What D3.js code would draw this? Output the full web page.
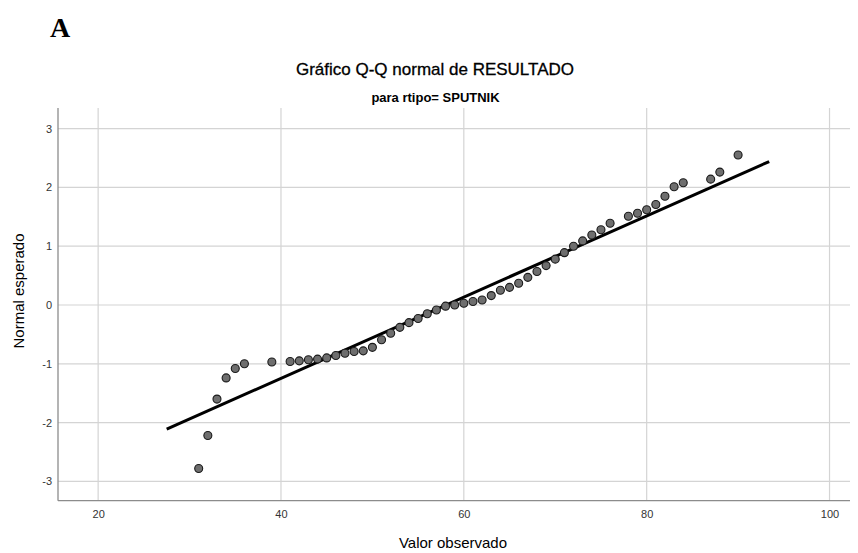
<!DOCTYPE html>
<html>
<head>
<meta charset="utf-8">
<script src="https://cdn.jsdelivr.net/npm/d3@7"></script>
<style>
  body { margin: 0; background: #fff; }
  svg { display: block; }
</style>
</head>
<body>
<svg id="chart" width="858" height="553"></svg>
<script>
// Observed values (distinct) and their expected normal quantiles
const observed = [31, 32, 33, 34, 35, 36, 39, 41, 42, 43, 44, 45, 46, 47, 48, 49, 50,
  51, 52, 53, 54, 55, 56, 57, 58, 59, 60, 61, 62, 63, 64, 65, 66, 67, 68, 69, 70,
  71, 72, 73, 74, 75, 76, 78, 79, 80, 81, 82, 83, 84, 87, 88, 90];
const expected = [-2.78, -2.22, -1.60, -1.24, -1.08, -1.00, -0.97, -0.96, -0.95, -0.93,
  -0.92, -0.90, -0.86, -0.82, -0.79, -0.78, -0.72, -0.59, -0.48, -0.38, -0.30, -0.23,
  -0.15, -0.085, -0.02, 0.00, 0.03, 0.06, 0.085, 0.16, 0.25, 0.30, 0.37, 0.47, 0.57,
  0.67, 0.78, 0.89, 1.00, 1.09, 1.19, 1.28, 1.39, 1.51, 1.56, 1.62, 1.71, 1.85, 2.01,
  2.08, 2.14, 2.26, 2.55];
// Reference line endpoints
const lineX = [27.5, 93.4];
const lineZ = [-2.11, 2.44];
const xTicks = [20, 40, 60, 80, 100];
const yTicks = [-3, -2, -1, 0, 1, 2, 3];

const title = "Gráfico Q-Q normal de RESULTADO";
const subtitle = "para rtipo= SPUTNIK";
const panelLabel = "A";
const xLabel = "Valor observado";
const yLabel = "Normal esperado";

(function () {
const svg = d3.select("#chart");
const pLeft = 58, pRight = 850, pTop = 108, pBottom = 500.7;

const x = d3.scaleLinear().domain([15.61, 102.24]).range([pLeft, pRight]);
const y = d3.scaleLinear().domain([-3.328, 3.35]).range([pBottom, pTop]);

const font = "'Liberation Sans', Arial, sans-serif";

// Grid
const grid = svg.append("g");
grid.selectAll("line.gx").data(xTicks).join("line").attr("class", "gx")
  .attr("x1", d => x(d)).attr("x2", d => x(d))
  .attr("y1", pTop).attr("y2", pBottom)
  .attr("stroke", "#d4d4d4").attr("stroke-width", 1.2);
grid.selectAll("line.gy").data(yTicks).join("line").attr("class", "gy")
  .attr("x1", pLeft).attr("x2", pRight)
  .attr("y1", d => y(d)).attr("y2", d => y(d))
  .attr("stroke", "#d4d4d4").attr("stroke-width", 1.2);

// Axes
const xAxis = svg.append("g").attr("transform", `translate(0,${pBottom})`)
  .call(d3.axisBottom(x).tickValues(xTicks).tickSize(0).tickPadding(10).tickFormat(d => String(d)));
const yAxis = svg.append("g").attr("transform", `translate(${pLeft},0)`)
  .call(d3.axisLeft(y).tickValues(yTicks).tickSize(0).tickPadding(6).tickFormat(d => String(d)));
[xAxis, yAxis].forEach(g => {
  g.select(".domain").attr("stroke", "#8c8c8c").attr("stroke-width", 1.3);
  g.selectAll("text").attr("font-family", font).attr("font-size", 11).attr("fill", "#333");
});
yAxis.select(".domain").attr("d", `M0,${pTop}V${pBottom}`);
xAxis.select(".domain").attr("d", `M${pLeft},0H${pRight}`);

// Reference line
svg.append("line")
  .attr("x1", x(lineX[0])).attr("y1", y(lineZ[0]))
  .attr("x2", x(lineX[1])).attr("y2", y(lineZ[1]))
  .attr("stroke", "#000").attr("stroke-width", 3);

// Points
svg.append("g").selectAll("circle").data(observed).join("circle")
  .attr("cx", d => x(d))
  .attr("cy", (d, i) => y(expected[i]))
  .attr("r", 4)
  .attr("fill", "#6e6e6e")
  .attr("stroke", "#1a1a1a")
  .attr("stroke-width", 1.1);

// Texts
svg.append("text").attr("x", 50).attr("y", 37)
  .attr("font-family", "'Liberation Serif', 'Times New Roman', serif")
  .attr("font-weight", "bold").attr("font-size", 28).attr("fill", "#000")
  .text(panelLabel);

svg.append("text").attr("x", 435).attr("y", 75).attr("text-anchor", "middle")
  .attr("font-family", font).attr("font-size", 17).attr("fill", "#000")
  .attr("stroke", "#000").attr("stroke-width", 0.3)
  .text(title);

svg.append("text").attr("x", 435.5).attr("y", 102).attr("text-anchor", "middle")
  .attr("font-family", font).attr("font-weight", "bold").attr("font-size", 13).attr("fill", "#000")
  .text(subtitle);

svg.append("text").attr("x", 453).attr("y", 548).attr("text-anchor", "middle")
  .attr("font-family", font).attr("font-size", 15).attr("fill", "#000")
  .text(xLabel);

svg.append("text").attr("transform", `translate(24,291) rotate(-90)`)
  .attr("text-anchor", "middle")
  .attr("font-family", font).attr("font-size", 15).attr("fill", "#000")
  .text(yLabel);
})();
</script>
</body>
</html>
